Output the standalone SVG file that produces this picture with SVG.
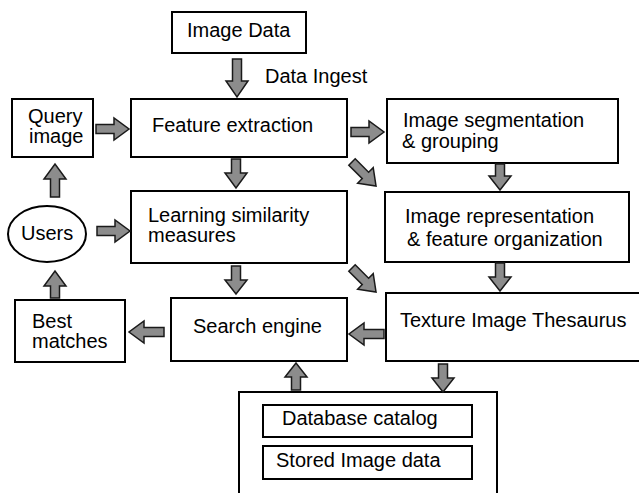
<svg xmlns="http://www.w3.org/2000/svg" width="639" height="493" viewBox="0 0 639 493">
<style>
.box{fill:#fff;stroke:#000;stroke-width:2}
.t{font-family:"Liberation Sans",Arial,sans-serif;font-size:20px;fill:#000}
.ar{fill:#8c8c8c;stroke:#1a1a1a;stroke-width:1.5;stroke-linejoin:miter}
</style>
<rect width="639" height="493" fill="#fff"/>
<g id="image-data"><rect class="box" x="172" y="12" width="134" height="41"/><text class="t" x="187" y="37">Image Data</text></g>
<g id="data-ingest-label"><text class="t" x="265" y="83">Data Ingest</text></g>
<g id="query-image"><rect class="box" x="12" y="99" width="81" height="58"/><text class="t" x="28" y="123">Query</text><text class="t" x="29" y="143">image</text></g>
<g id="feature-extraction"><rect class="box" x="131" y="99" width="216" height="58"/><text class="t" x="152" y="132">Feature extraction</text></g>
<g id="image-segmentation"><rect class="box" x="387" y="99" width="231" height="64"/><text class="t" x="403" y="127">Image segmentation</text><text class="t" x="402" y="148">&amp; grouping</text></g>
<g id="users"><ellipse class="box" cx="47" cy="234" rx="39" ry="28"/><text class="t" x="21" y="240">Users</text></g>
<g id="learning-similarity"><rect class="box" x="131" y="191" width="216" height="72"/><text class="t" x="148" y="222">Learning similarity</text><text class="t" x="148" y="242">measures</text></g>
<g id="image-representation"><rect class="box" x="385" y="192" width="244" height="70"/><text class="t" x="405" y="223">Image representation</text><text class="t" x="407" y="246">&amp; feature organization</text></g>
<g id="best-matches"><rect class="box" x="15" y="300" width="110" height="62"/><text class="t" x="32" y="328">Best</text><text class="t" x="32" y="348">matches</text></g>
<g id="search-engine"><rect class="box" x="171" y="298" width="176" height="63"/><text class="t" x="193" y="333">Search engine</text></g>
<g id="texture-thesaurus"><rect class="box" x="386" y="293" width="262" height="68"/><text class="t" x="400" y="327">Texture Image Thesaurus</text></g>
<g id="database"><rect class="box" x="239" y="392" width="258" height="106"/>
<g id="database-catalog"><rect class="box" x="263" y="405" width="209" height="32"/><text class="t" x="282" y="425">Database catalog</text></g>
<g id="stored-image-data"><rect class="box" x="263" y="446" width="209" height="33"/><text class="t" x="276" y="467">Stored Image data</text></g>
</g>
<g id="connectors">
<path class="ar" transform="translate(237,59) rotate(90)" d="M0,-4.5H22V-11L38,0L22,11V4.5H0Z"/>
<path class="ar" transform="translate(96,129)" d="M0,-4.5H18V-11L33,0L18,11V4.5H0Z"/>
<path class="ar" transform="translate(351,132)" d="M0,-4.5H18V-11L33,0L18,11V4.5H0Z"/>
<path class="ar" transform="translate(352,162) rotate(45)" d="M0,-4.5H19V-11L34,0L19,11V4.5H0Z"/>
<path class="ar" transform="translate(55,197) rotate(-90)" d="M0,-4.5H18V-11L33,0L18,11V4.5H0Z"/>
<path class="ar" transform="translate(97,231)" d="M0,-4.5H18V-11L33,0L18,11V4.5H0Z"/>
<path class="ar" transform="translate(236,159) rotate(90)" d="M0,-4.5H14V-11L29,0L14,11V4.5H0Z"/>
<path class="ar" transform="translate(500,164) rotate(90)" d="M0,-4.5H12V-11L26,0L12,11V4.5H0Z"/>
<path class="ar" transform="translate(500,263) rotate(90)" d="M0,-4.5H14V-11L28,0L14,11V4.5H0Z"/>
<path class="ar" transform="translate(236,266) rotate(90)" d="M0,-4.5H14V-11L28,0L14,11V4.5H0Z"/>
<path class="ar" transform="translate(352,268) rotate(45)" d="M0,-4.5H19V-11L34,0L19,11V4.5H0Z"/>
<path class="ar" transform="translate(55,298) rotate(-90)" d="M0,-4.5H12V-11L27,0L12,11V4.5H0Z"/>
<path class="ar" transform="translate(164,332) rotate(180)" d="M0,-4.5H20V-11L35,0L20,11V4.5H0Z"/>
<path class="ar" transform="translate(384,334) rotate(180)" d="M0,-4.5H20V-11L35,0L20,11V4.5H0Z"/>
<path class="ar" transform="translate(296,390) rotate(-90)" d="M0,-4.5H13V-11L27,0L13,11V4.5H0Z"/>
<path class="ar" transform="translate(443,364) rotate(90)" d="M0,-4.5H14V-11L28,0L14,11V4.5H0Z"/>
</g>
</svg>
